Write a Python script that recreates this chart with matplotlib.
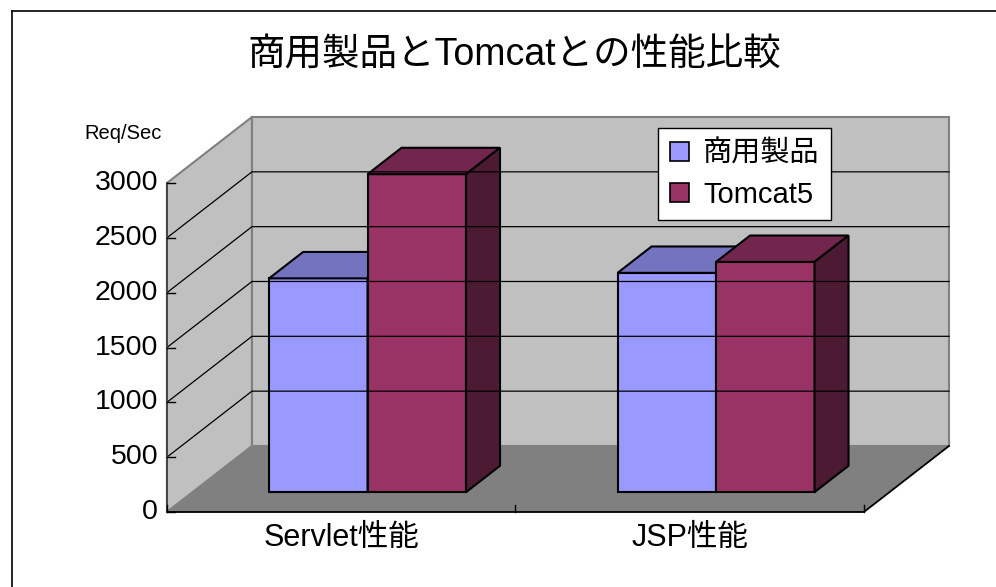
import matplotlib.pyplot as plt
from matplotlib.patches import Polygon, Patch

plt.rcParams['font.family'] = ['Liberation Sans', 'Noto Sans CJK JP']

# Data
categories = ['Servlet性能', 'JSP性能']
series_names = ['商用製品', 'Tomcat5']
commercial = [1950, 2000]
tomcat = [2900, 2100]
yticks = [0, 500, 1000, 1500, 2000, 2500, 3000]

front_colors = ['#9999FF', '#993366']
top_colors = ['#7373C0', '#73264D']
side_colors = ['#4D4D80', '#4D1A33']

# 3D box geometry (category units / value units)
ymax = 3000
ncat = len(categories)
dx, dy = 0.244, 602          # full floor depth offset
bar_front, bar_depth = 0.30, 0.40
group_left, bar_w = 0.22, 0.2825

fig = plt.figure(figsize=(9.96, 5.87), dpi=100)
ax = fig.add_axes([0, 0, 1, 1])
ax.set_xlim(-0.479, 2.379)
ax.set_ylim(-684, 4669)
ax.axis('off')

# outer frame (only left/top visible)
fig.add_artist(plt.Line2D([12 / 996, 12 / 996], [0, 1 - 11 / 587], color='black', lw=1.2))
fig.add_artist(plt.Line2D([12 / 996, 1], [1 - 11 / 587, 1 - 11 / 587], color='black', lw=1.2))

wall = '#C0C0C0'
edge = '#808080'
# left wall
ax.add_patch(Polygon([(0, 0), (0, ymax), (dx, ymax + dy), (dx, dy)],
                     facecolor=wall, edgecolor=edge, lw=1.5))
# back wall
ax.add_patch(Polygon([(dx, dy), (ncat + dx, dy), (ncat + dx, ymax + dy), (dx, ymax + dy)],
                     facecolor=wall, edgecolor=edge, lw=1.5))
# gridlines
for v in yticks[1:-1]:
    ax.plot([0, dx, ncat + dx], [v, v + dy, v + dy], color='black', lw=0.9)
# floor
ax.add_patch(Polygon([(0, 0), (ncat, 0), (ncat + dx, dy), (dx, dy)],
                     facecolor='#808080', edgecolor='none'))
ax.plot([0, ncat, ncat + dx], [0, 0, dy], color='black', lw=1.3)
ax.plot([0, 0], [0, ymax], color='#404040', lw=1.3)

# y ticks and labels
for v in yticks:
    ax.plot([0, 0.022], [v, v], color='black', lw=1.0)
    ax.text(-0.025, v, str(v), ha='right', va='center', fontsize=20.5)
ax.text(-0.125, 3450, 'Req/Sec', ha='center', va='center', fontsize=14.5)

# category ticks and labels
for i in range(ncat + 1):
    ax.plot([i, i], [0, 65], color='black', lw=1.0)
for i, c in enumerate(categories):
    ax.text(i + 0.5, -240, c, ha='center', va='center', fontsize=22)

# bars
ox, oy = bar_front * dx, bar_front * dy
bx, by = bar_depth * dx, bar_depth * dy
for i in range(ncat):
    for s, vals in enumerate([commercial, tomcat]):
        v = vals[i]
        x0 = i + group_left + s * bar_w + ox
        x1 = x0 + bar_w
        y0, y1 = oy, oy + v
        kw = dict(edgecolor='black', lw=1.5, joinstyle='miter')
        ax.add_patch(Polygon([(x0, y0), (x1, y0), (x1, y1), (x0, y1)],
                             facecolor=front_colors[s], **kw))
        ax.add_patch(Polygon([(x0, y1), (x1, y1), (x1 + bx, y1 + by), (x0 + bx, y1 + by)],
                             facecolor=top_colors[s], **kw))
        ax.add_patch(Polygon([(x1, y0), (x1 + bx, y0 + by), (x1 + bx, y1 + by), (x1, y1)],
                             facecolor=side_colors[s], **kw))

# title
fig.text(0.516, 1 - 55 / 587, '商用製品とTomcatとの性能比較', ha='center', va='center', fontsize=27)

# legend
handles = [Patch(facecolor=front_colors[k], edgecolor='black', lw=1.2, label=series_names[k])
           for k in range(2)]
leg = fig.legend(handles=handles, loc='upper left', bbox_to_anchor=(658 / 996, 1 - 128 / 587),
                 fontsize=21, frameon=True, fancybox=False, edgecolor='black',
                 facecolor='white', framealpha=1,
                 handlelength=0.65, handleheight=0.65, handletextpad=0.5,
                 labelspacing=0.45, borderpad=0.4, borderaxespad=0)
leg.get_frame().set_linewidth(1.0)

fig.savefig('out.png', dpi=100)
